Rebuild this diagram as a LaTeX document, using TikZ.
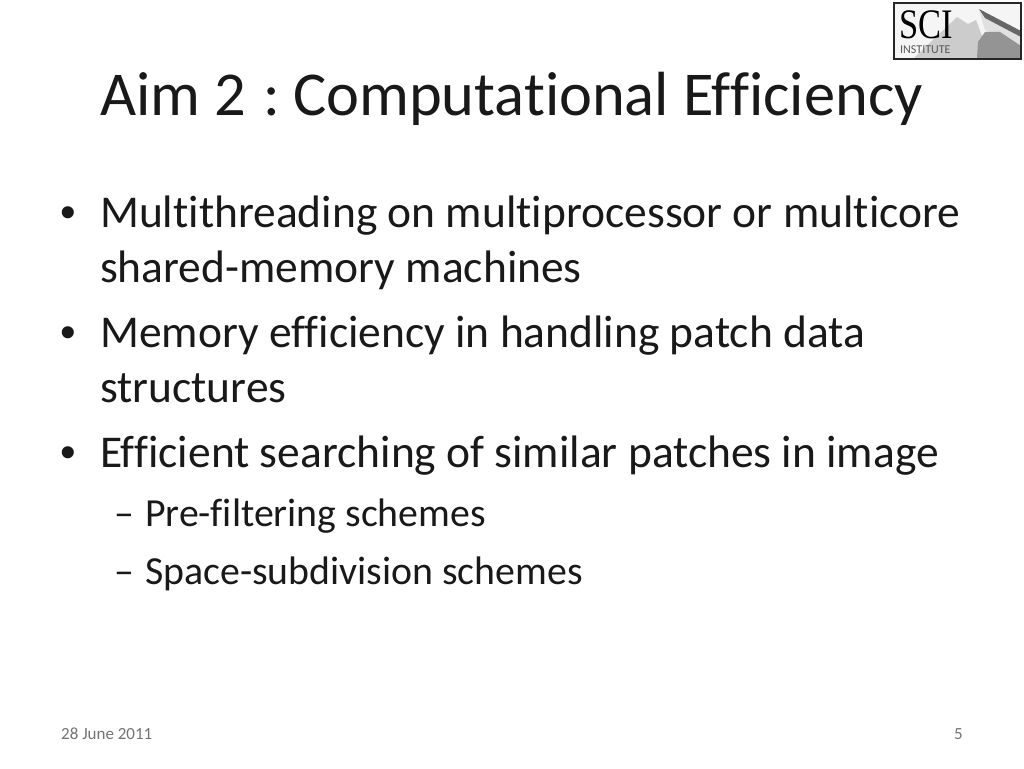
\documentclass[tikz,border=0pt]{standalone}
\usepackage{fontspec}
\setmainfont[RawFeature=-liga]{Carlito}
\newfontfamily\serifface{Liberation Serif}
\newfontfamily\bulletface{Liberation Sans}
\usetikzlibrary{positioning}
\begin{document}
\begin{tikzpicture}[x=1pt,y=-1pt,
    main/.style ={inner sep=0pt, anchor=base west, text=black!90},
    big/.style ={main, font=\fontsize{62.4}{62.4}\selectfont},
    lead/.style ={main, font=\fontsize{45.5}{45.5}\selectfont},
    dot/.style ={main, font=\bulletface\fontsize{44.5}{44.5}\selectfont},
    sub/.style ={main, font=\fontsize{39.8}{39.8}\selectfont},
    foot/.style ={inner sep=0pt, anchor=base west, text=black!55, font=\fontsize{17}{17}\selectfont}]
    \useasboundingbox (0,0) rectangle (1024,768);
    \fill[white] (0,0) rectangle (1024,768);
    % title
    \node[big] (title) at (100,115) {Aim 2\kern3pt\ :\kern-1pt\ Computational Efficiency};
    % bullets
    \node[dot] (b1) at (60,227) {•};
    \node[lead] (l1) at (100,227) {Multithreading on multiprocessor or multicore};
    \node[lead] (l1a) at (100,282) {shared-memory machines};
    \node[dot] (b2) at (60,347) {•};
    \node[lead] (l2) at (100,347) {Memory efficiency in handling patch data};
    \node[lead] (l2a) at (100,402) {structures};
    \node[dot] (b3) at (60,467) {•};
    \node[lead] (l3) at (100,467) {Efficient searching of similar patches in image};
    \node[sub] (d1) at (114,526) {–};
    \node[sub] (s1) at (145,526) {Pre-filtering schemes};
    \node[sub] (d2) at (114,584) {–};
    \node[sub] (s2) at (145,584) {Space-subdivision schemes};
    % footer
    \node[foot] (date) at (61,739) {28 June 2011};
    \node[foot] (page) at (954,739) {5};
    % logo
    \fill[black!4] (894,3) rectangle (1021,59);
    \fill[black!20] (914,58) -- (957,17) -- (968,24) -- (976,20) -- (982,36) -- (977,58) -- cycle;
    \fill[black!12] (979,10) -- (1021,35) -- (1021,48) -- (985,30) -- cycle;
    \fill[black!60] (979,9) -- (1021,31) -- (1021,37) -- (985,18) -- cycle;
    \fill[black!42] (985,32) -- (1000,32) -- (1021,46) -- (1021,58) -- (977,58) -- (978,42) -- cycle;
    \draw[black!85, line width=1.5pt] (894,3) rectangle (1021,59);
    \node[main, text=black, font=\serifface\fontsize{42}{42}\selectfont] (logo) at (899,38) {\scalebox{.82}[1]{SCI}};
    \node[main, text=black!65, font=\fontsize{12}{12}\selectfont] (inst) at (900,54) {INSTITUTE};
\end{tikzpicture}
\end{document}
